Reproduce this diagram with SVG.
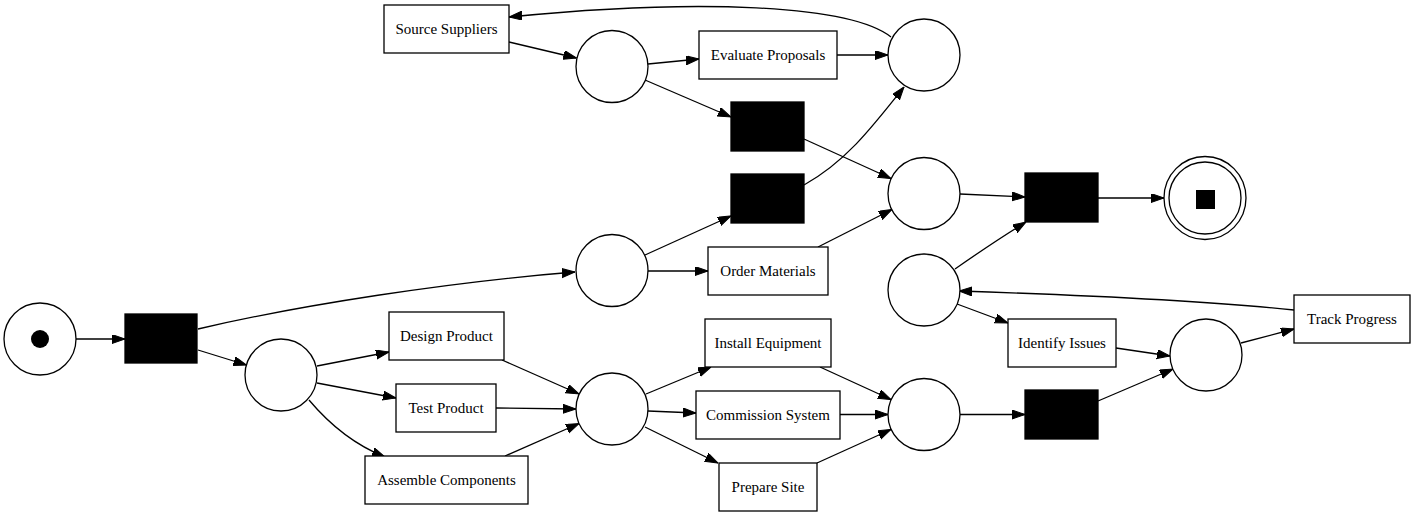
<svg xmlns="http://www.w3.org/2000/svg" width="1415" height="516" viewBox="0 0 1415 516">
<defs>
<marker id="ah" markerWidth="13" markerHeight="10" refX="13" refY="4.5" orient="auto" markerUnits="userSpaceOnUse">
<path d="M0,0 L13,4.5 L0,9 z" fill="#000" stroke="#000" stroke-width="1"/>
</marker>
<style>
.pl{fill:#fff;stroke:#000;stroke-width:1.3}
.tr{fill:#fff;stroke:#000;stroke-width:1.3}
.tau{fill:#000;stroke:#000;stroke-width:1.3}
.lbl{font-family:"Liberation Serif","Times New Roman",serif;font-size:15px;text-anchor:middle;fill:#000}
.e{fill:none;stroke:#000;stroke-width:1.3;marker-end:url(#ah)}
</style>
</defs>
<rect width="1415" height="516" fill="#fff"/>
<g id="connectors">
<path class="e" d="M76,339 L125,339"/>
<path class="e" d="M198,329 C300,305 450,282 575,272"/>
<path class="e" d="M198,350 L246.5,365"/>
<path class="e" d="M317,366 L389,352"/>
<path class="e" d="M317,383 L396,398"/>
<path class="e" d="M309,400 C330,425 355,445 385,457"/>
<path class="e" d="M502,360 L579,394"/>
<path class="e" d="M496,408 L576,409"/>
<path class="e" d="M505,456 L579,423.5"/>
<path class="e" d="M646,394 L711,367"/>
<path class="e" d="M648,411 L696,413"/>
<path class="e" d="M645,427 L718,463"/>
<path class="e" d="M820,367 L891,399.5"/>
<path class="e" d="M840,414.5 L888,414.5"/>
<path class="e" d="M817,463 L891,429.5"/>
<path class="e" d="M960,414.5 L1025,414.5"/>
<path class="e" d="M1098,401 L1173,369"/>
<path class="e" d="M1116,348 L1170,356"/>
<path class="e" d="M1241,343 L1294,329"/>
<path class="e" d="M1294,310 C1200,300 1050,294 959,291"/>
<path class="e" d="M957,304 L1008,323"/>
<path class="e" d="M955,269 C975,255 1000,238 1026,222"/>
<path class="e" d="M960,194 L1025,197"/>
<path class="e" d="M1098,198 L1164,198"/>
<path class="e" d="M647,271 L708,271"/>
<path class="e" d="M645,255 L731,216"/>
<path class="e" d="M818,247 L892,209.5"/>
<path class="e" d="M804,139 L891,178.5"/>
<path class="e" d="M804,185 C845,162 870,130 904,87"/>
<path class="e" d="M648,64 L699,59"/>
<path class="e" d="M645,80 L731,117"/>
<path class="e" d="M837,55 L888,55"/>
<path class="e" d="M891,37 C850,5 700,-2 509,17"/>
<path class="e" d="M509,42 L576.5,58"/>
</g>
<g id="p_start"><ellipse class="pl" cx="40" cy="339" rx="36" ry="36"/><circle cx="40" cy="339" r="9" fill="#000"/></g>
<g id="p1"><ellipse class="pl" cx="281" cy="375" rx="36" ry="36"/></g>
<g id="p2"><ellipse class="pl" cx="612" cy="66.5" rx="36" ry="36"/></g>
<g id="p3"><ellipse class="pl" cx="924" cy="55" rx="36" ry="36"/></g>
<g id="p4"><ellipse class="pl" cx="924" cy="193.5" rx="36" ry="36"/></g>
<g id="p5"><ellipse class="pl" cx="612" cy="270.5" rx="36" ry="36"/></g>
<g id="p6"><ellipse class="pl" cx="612" cy="409" rx="36" ry="36"/></g>
<g id="p7"><ellipse class="pl" cx="924" cy="414.5" rx="36" ry="36"/></g>
<g id="p8"><ellipse class="pl" cx="924" cy="290" rx="36" ry="36"/></g>
<g id="p9"><ellipse class="pl" cx="1206" cy="355" rx="36" ry="36"/></g>
<g id="p_end"><ellipse class="pl" cx="1205" cy="198" rx="41" ry="41.5"/><ellipse class="pl" cx="1205" cy="198" rx="36" ry="36"/><rect x="1196" y="190" width="19" height="19" fill="#000"/></g>
<g id="t_start"><rect class="tau" x="125" y="314" width="72" height="49"/></g>
<g id="t_a"><rect class="tau" x="731" y="102" width="73" height="49"/></g>
<g id="t_b"><rect class="tau" x="731" y="174" width="73" height="49"/></g>
<g id="t_c"><rect class="tau" x="1025" y="173" width="73" height="49"/></g>
<g id="t_d"><rect class="tau" x="1025" y="390" width="73" height="49"/></g>
<g id="source_suppliers"><rect class="tr" x="384" y="5" width="125" height="48"/><text class="lbl" x="446.5" y="34">Source Suppliers</text></g>
<g id="evaluate_proposals"><rect class="tr" x="699" y="31" width="138" height="48"/><text class="lbl" x="768" y="60">Evaluate Proposals</text></g>
<g id="order_materials"><rect class="tr" x="708" y="247" width="120" height="48"/><text class="lbl" x="768" y="276">Order Materials</text></g>
<g id="design_product"><rect class="tr" x="389" y="312" width="115" height="48"/><text class="lbl" x="446.5" y="341">Design Product</text></g>
<g id="test_product"><rect class="tr" x="396" y="384" width="100" height="48"/><text class="lbl" x="446" y="413">Test Product</text></g>
<g id="assemble_components"><rect class="tr" x="365" y="456" width="163" height="48"/><text class="lbl" x="446.5" y="485">Assemble Components</text></g>
<g id="install_equipment"><rect class="tr" x="705" y="319" width="126" height="48"/><text class="lbl" x="768" y="348">Install Equipment</text></g>
<g id="commission_system"><rect class="tr" x="696" y="391" width="144" height="48"/><text class="lbl" x="768" y="420">Commission System</text></g>
<g id="prepare_site"><rect class="tr" x="719" y="463" width="98" height="48"/><text class="lbl" x="768" y="492">Prepare Site</text></g>
<g id="identify_issues"><rect class="tr" x="1008" y="319" width="108" height="48"/><text class="lbl" x="1062" y="348">Identify Issues</text></g>
<g id="track_progress"><rect class="tr" x="1294" y="295" width="116" height="48"/><text class="lbl" x="1352" y="324">Track Progress</text></g>
</svg>
